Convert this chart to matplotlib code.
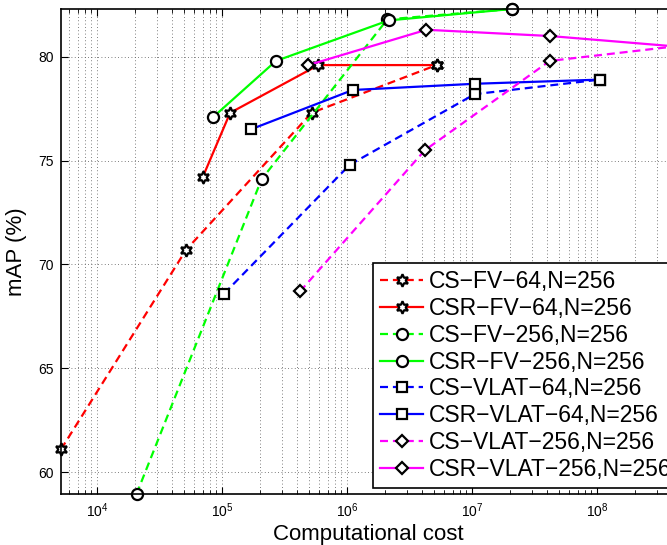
"""Computational cost vs mAP for CS / CSR encodings (FV, VLAT)."""

import matplotlib
matplotlib.use("Agg")
import matplotlib.pyplot as plt
from matplotlib.ticker import LogLocator, NullFormatter

plt.rcParams["font.family"] = ["Liberation Sans", "DejaVu Sans"]
plt.rcParams["mathtext.fontset"] = "custom"
plt.rcParams["mathtext.rm"] = "Liberation Sans"
plt.rcParams["mathtext.it"] = "Liberation Sans"

# --- data ------------------------------------------------------------------
cs_fv64_x = [5.15e3, 5.15e4, 5.2e5, 5.2e6]
cs_fv64_y = [61.1, 70.7, 77.3, 79.6]
csr_fv64_x = [7.0e4, 1.16e5, 5.9e5, 5.2e6]
csr_fv64_y = [74.2, 77.3, 79.6, 79.6]

cs_fv256_x = [2.07e4, 2.07e5, 2.1e6, 2.07e7]
cs_fv256_y = [58.95, 74.1, 81.8, 82.3]
csr_fv256_x = [8.5e4, 2.7e5, 2.15e6, 2.07e7]
csr_fv256_y = [77.1, 79.8, 81.75, 82.3]

cs_vlat64_x = [1.04e5, 1.05e6, 1.05e7, 1.05e8]
cs_vlat64_y = [68.6, 74.8, 78.2, 78.9]
csr_vlat64_x = [1.69e5, 1.11e6, 1.05e7, 1.05e8]
csr_vlat64_y = [76.5, 78.4, 78.7, 78.9]

cs_vlat256_x = [4.2e5, 4.19e6, 4.18e7, 4.2e8]
cs_vlat256_y = [68.7, 75.5, 79.8, 80.5]
csr_vlat256_x = [4.9e5, 4.31e6, 4.18e7, 4.2e8]
csr_vlat256_y = [79.6, 81.3, 81.0, 80.5]

series = [
    ("CS\u2212FV\u221264,N=256", cs_fv64_x, cs_fv64_y, "#ff0000", "--", (6, 1, 0)),
    ("CSR\u2212FV\u221264,N=256", csr_fv64_x, csr_fv64_y, "#ff0000", "-", (6, 1, 0)),
    ("CS\u2212FV\u2212256,N=256", cs_fv256_x, cs_fv256_y, "#00ff00", "--", "o"),
    ("CSR\u2212FV\u2212256,N=256", csr_fv256_x, csr_fv256_y, "#00ff00", "-", "o"),
    ("CS\u2212VLAT\u221264,N=256", cs_vlat64_x, cs_vlat64_y, "#0000ff", "--", "s"),
    ("CSR\u2212VLAT\u221264,N=256", csr_vlat64_x, csr_vlat64_y, "#0000ff", "-", "s"),
    ("CS\u2212VLAT\u2212256,N=256", cs_vlat256_x, cs_vlat256_y, "#ff00ff", "--", "D"),
    ("CSR\u2212VLAT\u2212256,N=256", csr_vlat256_x, csr_vlat256_y, "#ff00ff", "-", "D"),
]

marker_size = {"o": 8, "s": 6.5, "D": 6, (6, 1, 0): 9}

fig = plt.figure(figsize=(6.67, 5.45), dpi=100)
ax = fig.add_axes([61 / 667, 1 - 494 / 545, 614 / 667, 485 / 545])

for label, xs, ys, color, ls, mk in series:
    line, = ax.plot(xs, ys, color=color, linestyle=ls, linewidth=1.6,
                    marker=mk, markersize=marker_size[mk],
                    markerfacecolor="white", markeredgecolor="black",
                    markeredgewidth=1.6, label=label, clip_on=False)
    if ls == "--":
        line.set_dashes([3.6, 2.2])

ax.set_xscale("log")
ax.set_xlim(5.15e3, 4.2e8)
ax.set_ylim(58.95, 82.3)
ax.set_yticks([60, 65, 70, 75, 80])
ax.xaxis.set_minor_locator(LogLocator(base=10, subs=range(2, 10), numticks=20))
ax.xaxis.set_minor_formatter(NullFormatter())

grid_kw = dict(color="#555555", linewidth=0.6, dashes=(1, 3))
ax.grid(True, which="major", axis="both", **grid_kw)
ax.grid(True, which="minor", axis="x", **grid_kw)

ax.tick_params(which="both", direction="in", top=True, right=True)
ax.tick_params(which="major", length=5, width=0.8, labelsize=10, pad=5)
ax.tick_params(which="minor", length=3, width=0.6)
for sp in ax.spines.values():
    sp.set_linewidth(1.2)

ax.set_xlabel("Computational cost", fontsize=16, labelpad=3)
ax.set_ylabel("mAP (%)", fontsize=16, labelpad=8)

# the legend runs off the right edge, as in the (cropped) original figure
leg = ax.legend(loc="lower left", bbox_to_anchor=((373 - 61) / 614, 6 / 485),
                fontsize=16.5, frameon=True, fancybox=False,
                edgecolor="black", framealpha=1.0, labelspacing=0.17,
                handlelength=1.9, handletextpad=0.25, borderpad=0.3,
                borderaxespad=0.0)
leg.get_frame().set_linewidth(1.2)

fig.savefig("out.png", dpi=100)
